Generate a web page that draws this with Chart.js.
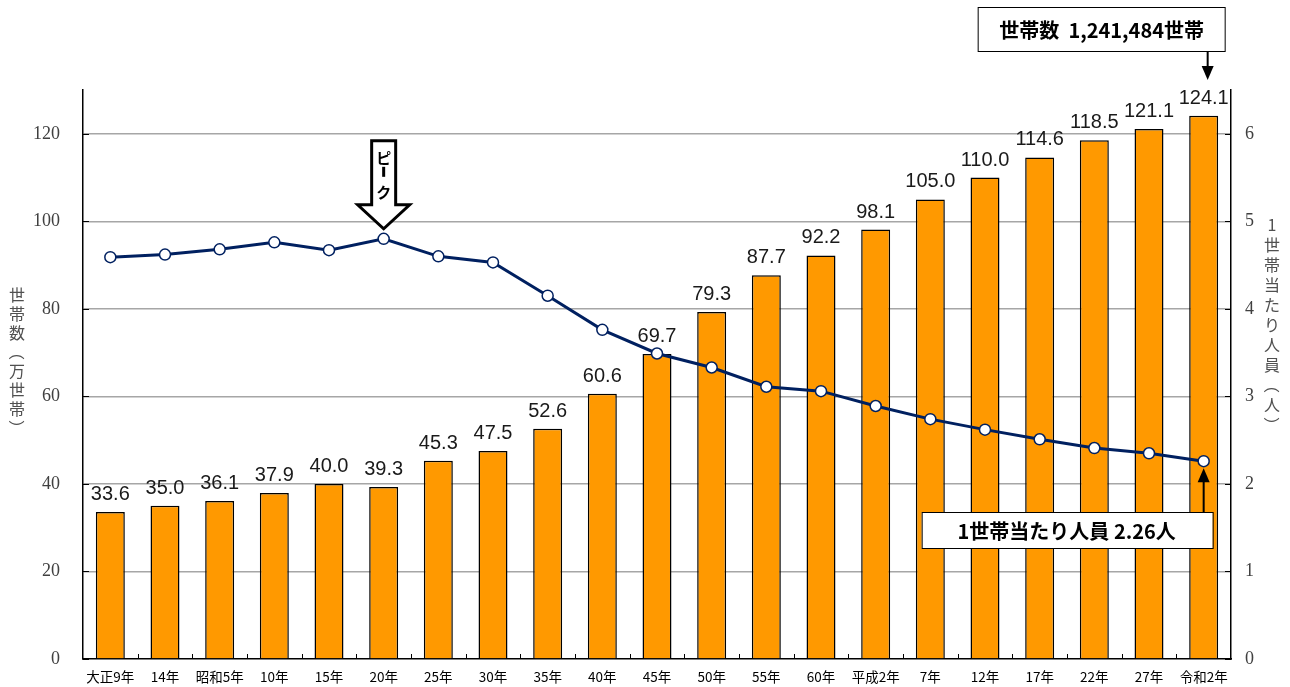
<!DOCTYPE html>
<html lang="ja">
<head>
<meta charset="utf-8">
<title>世帯数と1世帯当たり人員の推移</title>
<script src="https://cdn.jsdelivr.net/npm/chart.js@4.4.1/dist/chart.umd.min.js"></script>
<style>
  html, body { margin: 0; padding: 0; background: #fff; overflow: hidden; }
  #wrap { position: relative; width: 1290px; height: 687px; }
</style>
</head>
<body>
<div id="wrap"><canvas id="chart"></canvas></div>
<script>
// 調査年
const years = ['大正9年', '14年', '昭和5年', '10年', '15年', '20年', '25年', '30年', '35年', '40年',
  '45年', '50年', '55年', '60年', '平成2年', '7年', '12年', '17年', '22年', '27年', '令和2年'];
// 世帯数（万世帯）
const households = [33.6, 35.0, 36.1, 37.9, 40.0, 39.3, 45.3, 47.5, 52.6, 60.6,
  69.7, 79.3, 87.7, 92.2, 98.1, 105.0, 110.0, 114.6, 118.5, 121.1, 124.1];
// 1世帯当たり人員（人）
const perHousehold = [4.59, 4.62, 4.68, 4.76, 4.67, 4.80, 4.60, 4.53, 4.15, 3.76,
  3.49, 3.33, 3.11, 3.06, 2.89, 2.74, 2.62, 2.51, 2.41, 2.35, 2.26];

const peakIndex = 5;
const boxTop = '世帯数  1,241,484世帯';
const boxBottom = '1世帯当たり人員 2.26人';
const leftTitle = ['世', '帯', '数', '（', '万', '世', '帯', '）'];
const rightTitle = ['1', '世', '帯', '当', 'た', 'り', '人', '員', '（', '人', '）'];

const gothic = "'Noto Sans CJK JP', 'Noto Sans', sans-serif";
const narrow = "'Liberation Sans Narrow', 'Liberation Sans', Arial, sans-serif";
const serif = "'Liberation Serif', 'DejaVu Serif', serif";

// 棒の上の数値
const barLabels = {
  id: 'barLabels',
  afterDatasetsDraw(chart) {
    const ctx = chart.ctx;
    const meta = chart.getDatasetMeta(0);
    ctx.save();
    ctx.font = '20px ' + narrow;
    ctx.fillStyle = '#1a1a1a';
    ctx.textAlign = 'center';
    ctx.textBaseline = 'alphabetic';
    meta.data.forEach((bar, i) => {
      ctx.fillText(households[i].toFixed(1), bar.x, bar.y - 12);
    });
    ctx.restore();
  }
};

// 縦書き（括弧は90度回転）
function drawVertical(ctx, chars, x, y0, step) {
  chars.forEach((c, i) => {
    const cy = y0 + i * step;
    if (c === '（' || c === '）') {
      ctx.save();
      ctx.translate(x, cy);
      ctx.rotate(Math.PI / 2);
      ctx.fillText(c, 0, 0);
      ctx.restore();
    } else {
      ctx.fillText(c, x, cy);
    }
  });
}

function arrowHead(ctx, x, y, dir) {
  // dir: 1 = 下向き, -1 = 上向き
  ctx.beginPath();
  ctx.moveTo(x, y);
  ctx.lineTo(x - 6, y - dir * 14);
  ctx.lineTo(x + 6, y - dir * 14);
  ctx.closePath();
  ctx.fill();
}

// 軸タイトル・目盛り・注記
const annotations = {
  id: 'annotations',
  afterDraw(chart) {
    const { ctx, chartArea: area } = chart;
    const { x, y1 } = chart.scales;
    ctx.save();

    // 内向きの目盛り
    ctx.strokeStyle = '#000';
    ctx.lineWidth = 1;
    ctx.beginPath();
    for (let v = 0; v <= 120; v += 20) {
      const py = Math.round(chart.scales.y.getPixelForValue(v)) + 0.5;
      ctx.moveTo(area.left, py); ctx.lineTo(area.left + 6, py);
    }
    for (let v = 0; v <= 6; v++) {
      const py = Math.round(y1.getPixelForValue(v)) + 0.5;
      ctx.moveTo(area.right - 6, py); ctx.lineTo(area.right, py);
    }
    for (let i = 1; i < years.length; i++) {
      const px = Math.round((x.getPixelForValue(i - 1) + x.getPixelForValue(i)) / 2) + 0.5;
      ctx.moveTo(px, area.bottom); ctx.lineTo(px, area.bottom - 5);
    }
    ctx.stroke();

    // 軸タイトル（縦書き）
    ctx.fillStyle = '#505050';
    ctx.font = '16px ' + gothic;
    ctx.textAlign = 'center';
    ctx.textBaseline = 'middle';
    drawVertical(ctx, leftTitle, 17, 295, 19);
    drawVertical(ctx, rightTitle, 1272, 225, 20);

    // ピーク矢印
    const px = x.getPixelForValue(peakIndex);
    const tip = y1.getPixelForValue(perHousehold[peakIndex]) - 10;
    ctx.beginPath();
    ctx.moveTo(px - 12, tip - 88);
    ctx.lineTo(px + 12, tip - 88);
    ctx.lineTo(px + 12, tip - 24);
    ctx.lineTo(px + 26, tip - 24);
    ctx.lineTo(px, tip);
    ctx.lineTo(px - 26, tip - 24);
    ctx.lineTo(px - 12, tip - 24);
    ctx.closePath();
    ctx.fillStyle = '#fff';
    ctx.fill();
    ctx.lineWidth = 3;
    ctx.lineJoin = 'miter';
    ctx.strokeStyle = '#000';
    ctx.stroke();
    ctx.fillStyle = '#000';
    ctx.font = 'bold 15px ' + gothic;
    ctx.fillText('ピ', px, tip - 71);
    ctx.fillRect(px - 1.5, tip - 62, 3, 10);
    ctx.fillText('ク', px, tip - 37);

    // 最終年の注記
    const lx = x.getPixelForValue(years.length - 1);
    ctx.lineWidth = 1;
    ctx.font = 'bold 20px ' + gothic;

    // 世帯数ボックス
    ctx.fillStyle = '#fff';
    ctx.fillRect(lx - 226, 7.5, 247, 44);
    ctx.strokeRect(lx - 226 + 0.5, 7.5, 247, 44);
    ctx.fillStyle = '#000';
    ctx.fillText(boxTop, lx - 102, 30);
    ctx.lineWidth = 2;
    ctx.beginPath();
    ctx.moveTo(lx + 4, 52); ctx.lineTo(lx + 4, 70);
    ctx.stroke();
    arrowHead(ctx, lx + 4, 80, 1);

    // 1世帯当たり人員ボックス
    const ly = y1.getPixelForValue(perHousehold[perHousehold.length - 1]);
    ctx.beginPath();
    ctx.moveTo(lx, 512); ctx.lineTo(lx, ly + 18);
    ctx.stroke();
    arrowHead(ctx, lx, ly + 7, -1);
    ctx.lineWidth = 1;
    ctx.fillStyle = '#fff';
    ctx.fillRect(lx - 282, 512.5, 291, 36);
    ctx.strokeRect(lx - 282 + 0.5, 512.5, 291, 36);
    ctx.fillStyle = '#000';
    ctx.fillText(boxBottom, lx - 137, 531);

    ctx.restore();
  }
};

new Chart(document.getElementById('chart'), {
  data: {
    labels: years,
    datasets: [
      {
        type: 'bar',
        label: '世帯数',
        data: households,
        yAxisID: 'y',
        backgroundColor: '#FF9900',
        borderColor: '#000',
        borderWidth: 1.5,
        categoryPercentage: 1,
        barPercentage: 0.53,
        order: 1
      },
      {
        type: 'line',
        label: '1世帯当たり人員',
        data: perHousehold,
        yAxisID: 'y1',
        borderColor: '#002060',
        borderWidth: 3,
        pointRadius: 5.5,
        pointBackgroundColor: '#fff',
        pointBorderColor: '#002060',
        pointBorderWidth: 1.5,
        tension: 0,
        order: 0
      }
    ]
  },
  options: {
    responsive: true,
    maintainAspectRatio: false,
    animation: false,
    layout: { padding: { top: 90, left: 0, right: 0, bottom: 0 } },
    plugins: {
      legend: { display: false },
      tooltip: { enabled: false }
    },
    scales: {
      x: {
        offset: true,
        grid: { display: false, drawTicks: false },
        border: { color: '#000', width: 1.5 },
        ticks: {
          color: '#000',
          font: { family: gothic, size: 13.5 },
          padding: 10,
          maxRotation: 0,
          autoSkip: false
        },
        afterFit: s => { s.height = 28; }
      },
      y: {
        position: 'left',
        min: 0,
        max: 130,
        grid: {
          color: ctx => ctx.tick && ctx.tick.value === 0 ? 'rgba(0,0,0,0)' : '#a6a6a6',
          lineWidth: 1.5,
          drawTicks: false
        },
        border: { color: '#000', width: 1.5 },
        ticks: {
          stepSize: 20,
          includeBounds: false,
          color: '#404040',
          font: { family: serif, size: 18 },
          padding: 23
        },
        afterFit: s => { s.width = 83; s.paddingTop = 0; s.paddingBottom = 0; }
      },
      y1: {
        position: 'right',
        min: 0,
        max: 6.5,
        grid: { drawOnChartArea: false, drawTicks: false },
        border: { color: '#000', width: 1.5 },
        ticks: {
          stepSize: 1,
          includeBounds: false,
          color: '#404040',
          font: { family: serif, size: 18 },
          padding: 14
        },
        afterFit: s => { s.width = 59; s.paddingTop = 0; s.paddingBottom = 0; }
      }
    }
  },
  plugins: [barLabels, annotations]
});
</script>
</body>
</html>
